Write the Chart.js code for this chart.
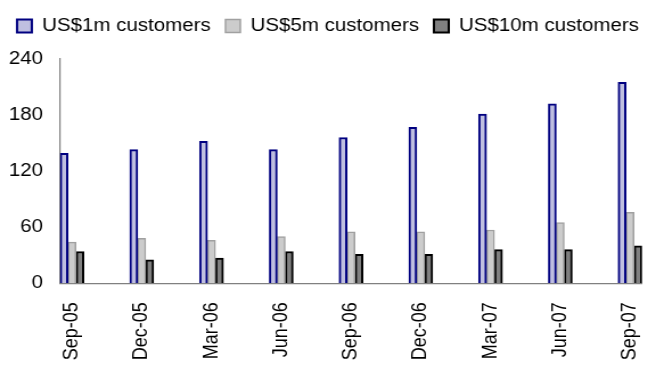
<!DOCTYPE html>
<html>
<head>
<meta charset="utf-8">
<title>Customers by deposit size</title>
<script src="https://cdn.jsdelivr.net/npm/chart.js@4/dist/chart.umd.min.js"></script>
<style>
  html, body { margin: 0; padding: 0; background: #fff; overflow: hidden; }
  /* chart is laid out narrow and widened to the page width */
  #wrap { width: 576px; height: 367px; transform: scaleX(1.1389); transform-origin: 0 0; }
  canvas { display: block; }
</style>
</head>
<body>
<div id="wrap"><canvas id="chart" width="576" height="367"></canvas></div>
<script>
// quarterly counts of customers by balance threshold
const quarters = ['Sep-05', 'Dec-05', 'Mar-06', 'Jun-06', 'Sep-06', 'Dec-06', 'Mar-07', 'Jun-07', 'Sep-07'];
const oneMillion = [139, 143, 152, 143, 156, 167, 181, 192, 215];
const fiveMillion = [44, 48, 46, 50, 55, 55, 57, 65, 76];
const tenMillion = [34, 25, 27, 34, 31, 31, 36, 36, 40];
const yTicks = [0, 60, 120, 180, 240];

const FONT = 'Liberation Sans, Arial, sans-serif';

// bars sit on a numeric x axis so the group can start right at the y axis
function points(values) {
  return values.map((v, i) => ({ x: i, y: v }));
}

// push the plot down a little below the legend row
const legendSpacer = {
  id: 'legendSpacer',
  beforeInit(chart) {
    const fit = chart.legend.fit;
    chart.legend.fit = function () {
      fit.call(this);
      this.height += 14;
    };
  }
};

const ctx = document.getElementById('chart').getContext('2d');
new Chart(ctx, {
  type: 'bar',
  data: {
    datasets: [
      {
        label: 'US$1m customers',
        data: points(oneMillion),
        backgroundColor: '#bfbfe0',
        borderColor: '#000080',
        borderWidth: 2
      },
      {
        label: 'US$5m customers',
        data: points(fiveMillion),
        backgroundColor: '#cccccc',
        borderColor: '#a0a0a0',
        borderWidth: 1.5
      },
      {
        label: 'US$10m customers',
        data: points(tenMillion),
        backgroundColor: '#808080',
        borderColor: '#000000',
        borderWidth: 2
      }
    ]
  },
  options: {
    responsive: false,
    animation: false,
    devicePixelRatio: 1,
    barThickness: 7,
    layout: { padding: { top: 4, left: 0, right: 0, bottom: 0 } },
    scales: {
      x: {
        type: 'linear',
        min: -0.1714,
        max: 8.1714,
        offset: false,
        afterFit(scale) {
          scale.height = 83.7;
          scale.paddingRight = 12.3; // keep the axis short of the right edge
        },
        grid: { display: false, drawTicks: false },
        border: { display: true, color: '#808080', width: 1.2 },
        ticks: {
          stepSize: 1,
          includeBounds: false,
          autoSkip: false,
          minRotation: 90,
          maxRotation: 90,
          padding: 19,
          color: '#000',
          font: { family: FONT, size: 18 },
          callback: v => quarters[v] ?? ''
        }
      },
      y: {
        min: yTicks[0],
        max: yTicks[yTicks.length - 1],
        afterFit(scale) { scale.width = 52.7; },
        afterBuildTicks(scale) { scale.ticks = yTicks.map(v => ({ value: v })); },
        grid: { display: false, drawTicks: false },
        border: { display: true, color: '#808080', width: 1.2 },
        ticks: {
          padding: 15,
          color: '#000',
          font: { family: FONT, size: 18 }
        }
      }
    },
    plugins: {
      legend: {
        position: 'top',
        labels: {
          boxWidth: 13,
          boxHeight: 13,
          padding: 13,
          color: '#000',
          font: { family: FONT, size: 18 }
        }
      },
      tooltip: { enabled: false }
    }
  },
  plugins: [legendSpacer]
});
</script>
</body>
</html>
